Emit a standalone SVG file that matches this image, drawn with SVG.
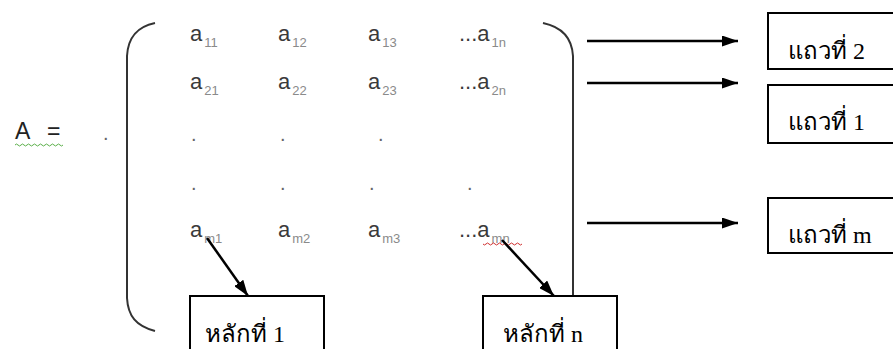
<svg xmlns="http://www.w3.org/2000/svg" width="893" height="349" viewBox="0 0 893 349">
<defs>
<style>
.m{font-family:"Liberation Sans",Arial,sans-serif;font-size:22px;fill:#3a3a3a}
.s{font-family:"Liberation Sans",Arial,sans-serif;font-size:13px;fill:#8a8a8a}
.d{font-family:"Liberation Sans",Arial,sans-serif;font-size:20px;fill:#666}
.t{font-family:"Liberation Serif","DejaVu Serif",serif;font-size:24px;fill:#000}
.box{fill:#fff;stroke:#000;stroke-width:2}
.br{fill:none;stroke:#333;stroke-width:2}
.c{stroke:#000;stroke-width:2.5;fill:none}
</style>
<marker id="ah" viewBox="0 0 16 11" refX="16" refY="5.5" markerWidth="16" markerHeight="11" markerUnits="userSpaceOnUse" orient="auto">
<path d="M0,0 L16,5.5 L0,11 Z" fill="#000"/>
</marker>
</defs>
<rect width="893" height="349" fill="#fff"/>
<g id="lhs">
<text class="m" x="15" y="139" style="font-size:23px;fill:#222">A</text>
<text class="m" x="47" y="139" style="font-size:23px;fill:#222">=</text>
<path d="M15,145 q1.5,-2 3,0 t3,0 t3,0 t3,0 t3,0 t3,0 t3,0 t3,0 t3,0 t3,0 t3,0 t3,0 t3,0 t3,0 t3,0 t3,0" fill="none" stroke="#5bb04a" stroke-width="1"/>
<text class="d" x="103" y="140">.</text>
</g>
<g id="brackets">
<path class="br" d="M155,23 C136,27 128,38 127,56 L127,298 C128,316 136,326 155,331"/>
<path class="br" d="M543,23 C562,27 572,38 573,56 L573,298 C572,316 564,326 545,331"/>
</g>
<g id="matrix">
<text class="m" x="190" y="41">a<tspan class="s" dx="2" dy="6">11</tspan></text>
<text class="m" x="278" y="41">a<tspan class="s" dx="2" dy="6">12</tspan></text>
<text class="m" x="368" y="41">a<tspan class="s" dx="2" dy="6">13</tspan></text>
<text class="m" x="459" y="41">...a<tspan class="s" dx="2" dy="6">1n</tspan></text>
<text class="m" x="190" y="89">a<tspan class="s" dx="2" dy="6">21</tspan></text>
<text class="m" x="278" y="89">a<tspan class="s" dx="2" dy="6">22</tspan></text>
<text class="m" x="368" y="89">a<tspan class="s" dx="2" dy="6">23</tspan></text>
<text class="m" x="459" y="89">...a<tspan class="s" dx="2" dy="6">2n</tspan></text>
<text class="d" x="191" y="141">.</text>
<text class="d" x="280" y="141">.</text>
<text class="d" x="378" y="141">.</text>
<text class="d" x="191" y="190">.</text>
<text class="d" x="280" y="190">.</text>
<text class="d" x="369" y="190">.</text>
<text class="d" x="467" y="190">.</text>
<text class="m" x="190" y="237">a<tspan class="s" dx="2" dy="6">m1</tspan></text>
<text class="m" x="278" y="237">a<tspan class="s" dx="2" dy="6">m2</tspan></text>
<text class="m" x="368" y="237">a<tspan class="s" dx="2" dy="6">m3</tspan></text>
<text class="m" x="459" y="237">...a<tspan class="s" dx="2" dy="6">mn</tspan></text>
<path d="M483,244 q1.5,2 3,0 t3,0 t3,0 t3,0 t3,0 t3,0 t3,0 t3,0 t3,0 t3,0 t3,0 t3,0 t3,0" fill="none" stroke="#d03030" stroke-width="1"/>
</g>
<g id="connectors">
<line class="c" x1="587" y1="41" x2="738" y2="41" marker-end="url(#ah)"/>
<line class="c" x1="587" y1="83" x2="738" y2="83" marker-end="url(#ah)"/>
<line class="c" x1="587" y1="223" x2="738" y2="223" marker-end="url(#ah)"/>
<line class="c" x1="207" y1="238" x2="248" y2="296" marker-end="url(#ah)"/>
<line class="c" x1="502" y1="240" x2="554" y2="296" marker-end="url(#ah)"/>
</g>
<g id="row2"><rect class="box" x="768" y="13" width="130" height="56"/><text class="t" x="788" y="59">แถวที่ 2</text></g>
<g id="row1"><rect class="box" x="768" y="85" width="130" height="58"/><text class="t" x="788" y="130">แถวที่ 1</text></g>
<g id="rowm"><rect class="box" x="768" y="198" width="130" height="55"/><text class="t" x="788" y="243">แถวที่ m</text></g>
<g id="col1"><rect class="box" x="190" y="296" width="134" height="60"/><text class="t" x="205" y="342">หลักที่ 1</text></g>
<g id="coln"><rect class="box" x="483" y="296" width="134" height="60"/><text class="t" x="503" y="342">หลักที่ n</text></g>
</svg>
